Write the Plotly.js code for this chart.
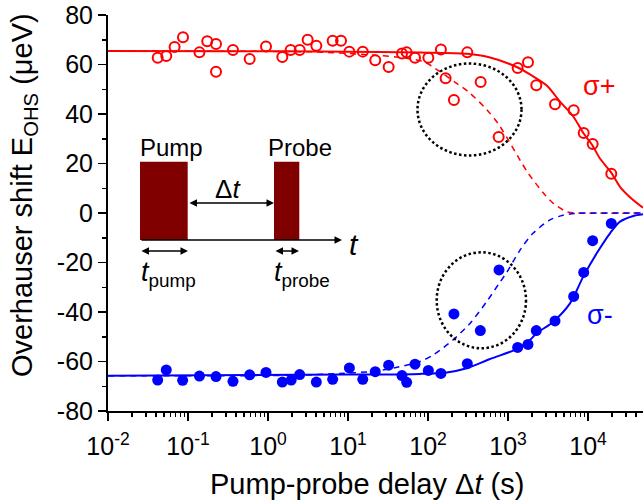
<!DOCTYPE html>
<html><head><meta charset="utf-8">
<script src="https://cdn.plot.ly/plotly-3.0.1.min.js"></script>
<style>html,body{margin:0;padding:0;background:#fff}</style>
</head><body><div id="chart" style="width:643px;height:504px"></div>
<script>
// sigma+ data (open red circles)
const plusDelay = [0.0418,0.0535,0.068,0.0866,0.139,0.174,0.224,0.224,0.365,0.59,0.944,1.51,1.92,2.49,3.13,4.02,6.43,8.18,10.4,15.3,21.9,32.2,47.3,54.1,68.8,101,145,166,211,310,455,764,1321,1778,2259,3870,6625,8836,11435,19552];
const plusShift = [62.7,63.4,67.1,71.0,64.9,69.4,68.3,57.1,65.9,62.2,67.3,63.0,65.9,65.9,70.0,67.6,69.6,69.6,65.2,65.2,61.7,59.0,64.4,64.9,62.7,62.7,66.1,54.4,45.7,64.9,52.9,30.7,58.6,60.9,51.6,43.9,41.5,32.3,27.9,15.9];
// sigma- data (filled blue circles)
const minusDelay = [0.0418,0.0535,0.0857,0.139,0.224,0.365,0.59,0.944,1.51,1.95,2.49,4.02,6.43,10.4,15.3,21.9,32.2,47.3,54.1,68.8,101,145,211,310,451,772,1321,1778,2259,3870,6625,8836,11435,19552];
const minusShift = [-67.5,-63.4,-67.6,-65.9,-66.1,-68.0,-65.4,-64.4,-68.3,-67.5,-65.3,-68.3,-67.2,-62.6,-67.2,-64.1,-61.5,-65.7,-68.4,-61.1,-63.6,-64.8,-40.8,-60.9,-47.5,-23.0,-54.3,-53.1,-47.5,-43.6,-33.7,-24.0,-11.2,-4.2];
// curves
const plusFitX = [0.01,0.316,10,79.4,305,596,1284,1884,3048,4467,6549,8735,11125,14125,19780,25119,33500,48700];
const plusFitY = [65.5,65.4,65.2,64.8,64.3,62.8,59.0,56.0,51.5,45.0,39.0,32.3,27.8,22.0,16.0,10.6,6.4,2.1];
const plusDashX = [0.01,2.51,5.42,20.7,40.6,87.3,122,228,319,542,756,1009,1413,1794,2901,3685,5420,7228,48700];
const plusDashY = [65.5,65.2,64.9,63.8,63.0,61.2,58.5,52.4,49.0,41.8,36.0,29.5,21.4,16.0,7.3,3.9,0.5,0,0];
const minusFitX = [0.01,10,79.4,171.4,305,596,1284,1884,2284,3683,5957,8730,12850,18836,25119,36830,48700];
const minusFitY = [-65.8,-65.3,-65.0,-64.4,-62.7,-59.0,-55.0,-51.3,-48.6,-43.9,-36.5,-25.7,-16.3,-8.2,-3.5,-1.2,-0.5];
const minusDashX = [0.01,2.51,7.94,20.5,38.7,79.4,115.5,205,335,542,772,963,1413,2054,3350,4870,6879,48700];
const minusDashY = [-65.8,-65.5,-64.8,-64.0,-62.5,-60.0,-57.4,-51.3,-44.6,-35.8,-28.5,-24.0,-15.0,-8.2,-2.8,-0.9,-0.2,0];
// tick labels
const xTickVals = [0.01,0.1,1,10,100,1000,10000];
const xTickText = ['10<sup>-2</sup>','10<sup>-1</sup>','10<sup>0</sup>','10<sup>1</sup>','10<sup>2</sup>','10<sup>3</sup>','10<sup>4</sup>'];
const yTickVals = [-80,-60,-40,-20,0,20,40,60,80];
const yTickText = ['-80','-60','-40','-20','0','20','40','60','80'];

const minorVals = [];
for (let d = -2; d <= 4; d++) for (let k = 2; k <= 9; k++) minorVals.push(k * Math.pow(10, d));

const RED = '#ff0000', BLUE = '#0000ff', PUMP = '#800000';
const dashPat = '6px,5px';

const traces = [
  {x: plusDashX, y: plusDashY, mode: 'lines', line: {color: RED, width: 1.5, dash: dashPat, shape: 'spline', smoothing: 0.8}, hoverinfo: 'skip'},
  {x: minusDashX, y: minusDashY, mode: 'lines', line: {color: BLUE, width: 1.5, dash: dashPat, shape: 'spline', smoothing: 0.8}, hoverinfo: 'skip'},
  {x: plusFitX, y: plusFitY, mode: 'lines', line: {color: RED, width: 2, shape: 'spline', smoothing: 0.8}},
  {x: minusFitX, y: minusFitY, mode: 'lines', line: {color: BLUE, width: 2, shape: 'spline', smoothing: 0.8}},
  {x: plusDelay, y: plusShift, mode: 'markers', marker: {symbol: 'circle-open', size: 10, color: RED, line: {width: 2, color: RED}}, cliponaxis: false},
  {x: minusDelay, y: minusShift, mode: 'markers', marker: {symbol: 'circle', size: 11, color: BLUE, line: {width: 0}}, cliponaxis: false}
];

const PL = 108, PR = 643, PT = 15, PB = 411;
const px = v => (v - PL) / (PR - PL);
const py = v => (PB - v) / (PB - PT);

const FONT = '"Liberation Sans", Arial, sans-serif';
const ann = (x, y, text, size, color, extra) => Object.assign({xref: 'paper', yref: 'paper', x: px(x), y: py(y), text: text, showarrow: false, font: {size: size, color: color || 'black', family: FONT}, xanchor: 'center', yanchor: 'middle'}, extra || {});
const arrow = (x, y, len, both) => ({xref: 'paper', yref: 'paper', x: px(x), y: py(y), ax: -len, ay: 0, text: '', showarrow: true, arrowhead: 2, arrowsize: 1, arrowwidth: 1.5, arrowcolor: 'black', arrowside: both ? 'end+start' : 'end', startarrowhead: 2, startarrowsize: 1});

const layout = {
  width: 643, height: 504,
  margin: {l: PL, r: 643 - PR, t: PT, b: 504 - PB, pad: 0},
  paper_bgcolor: 'white', plot_bgcolor: 'white',
  showlegend: false,
  font: {family: FONT, color: 'black'},
  xaxis: {
    type: 'log', range: [-2, 4.6875], showline: true, linewidth: 2, linecolor: 'black',
    ticks: 'outside', ticklen: 8, tickwidth: 1.5, tickcolor: 'black',
    tickmode: 'array', tickvals: xTickVals, ticktext: xTickText, ticklabelstandoff: 4,
    tickfont: {size: 25, family: FONT}, showgrid: false, zeroline: false,
    minor: {ticks: 'outside', ticklen: 4, tickwidth: 1.5, tickcolor: 'black', tickmode: 'array', tickvals: minorVals, showgrid: false}
  },
  yaxis: {
    range: [-80, 80], showline: true, linewidth: 2, linecolor: 'black',
    ticks: 'outside', ticklen: 8, tickwidth: 1.5, tickcolor: 'black',
    tickmode: 'array', tickvals: yTickVals, ticktext: yTickText,
    tickfont: {size: 25, family: FONT}, showgrid: false, zeroline: false,
    minor: {ticks: 'outside', ticklen: 4, tickwidth: 1.5, tickcolor: 'black', dtick: 10, showgrid: false}
  },
  shapes: [
    {type: 'circle', xref: 'paper', yref: 'paper', x0: px(417.5), x1: px(521.5), y0: py(155.5), y1: py(63.5), line: {color: 'black', width: 2.5, dash: '2.5px,2.5px'}, layer: 'above'},
    {type: 'circle', xref: 'paper', yref: 'paper', x0: px(436.7), x1: px(526), y0: py(348.3), y1: py(252.3), line: {color: 'black', width: 2.5, dash: '2.5px,2.5px'}, layer: 'above'},
    {type: 'rect', xref: 'paper', yref: 'paper', x0: px(140), x1: px(187.7), y0: py(240), y1: py(161.7), fillcolor: PUMP, line: {width: 0}},
    {type: 'rect', xref: 'paper', yref: 'paper', x0: px(274), x1: px(299.3), y0: py(240), y1: py(161.7), fillcolor: PUMP, line: {width: 0}}
  ],
  annotations: [
    ann(599, 86, 'σ+', 27, RED),
    ann(600, 315, 'σ-', 27, BLUE),
    ann(171.5, 147, 'Pump', 24),
    ann(300, 147, 'Probe', 24),
    ann(228, 189, 'Δ<i>t</i>', 26),
    ann(354, 244, '<i>t</i>', 30),
    ann(139, 274, '<i>t</i><sub>pump</sub>', 27, 'black', {xanchor: 'left'}),
    ann(272, 274, '<i>t</i><sub>probe</sub>', 27, 'black', {xanchor: 'left'}),
    ann(367, 484, 'Pump-probe delay Δ<i>t</i> (s)', 29),
    ann(24, 195, 'Overhauser shift E<sub>OHS</sub> (μeV)', 29, 'black', {textangle: -90}),
    arrow(342, 240, 202, false),
    arrow(274, 203, 86, true),
    arrow(188, 251, 48, true),
    arrow(299, 251, 25, true)
  ]
};

Plotly.newPlot('chart', traces, layout, {displayModeBar: false, staticPlot: true});
</script>
</body></html>
